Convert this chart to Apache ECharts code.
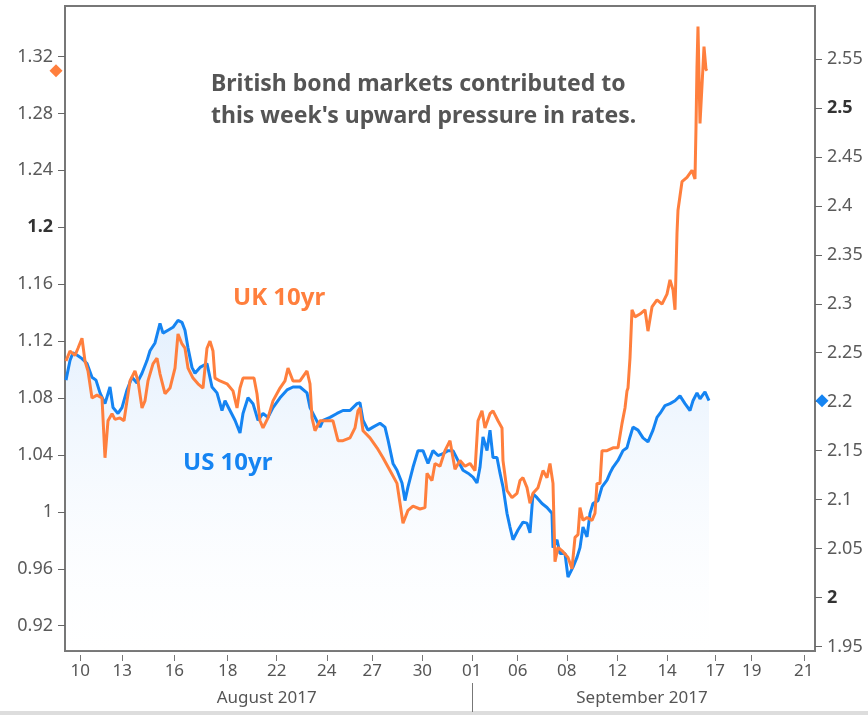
<!DOCTYPE html>
<html>
<head>
<meta charset="utf-8">
<script src="https://cdn.jsdelivr.net/npm/echarts@6/dist/echarts.min.js"></script>
<style>
  html, body { margin: 0; padding: 0; background: #ffffff; }
  #chart { width: 868px; height: 715px; }
</style>
</head>
<body>
<div id="chart"></div>
<script>
// x values are trading-day positions (weekends removed), 0 = 10 Aug 2017
const X_TICKS = [0, 1.68, 3.77, 5.91, 7.87, 9.88, 11.70, 13.71, 15.69, 17.53, 19.50, 21.52, 23.52, 25.45, 26.91, 29.0];
const X_LABELS = ['10','13','16','18','22','24','27','30','01','06','08','12','14','17','19','21'];
const MONTH_LABELS = ['August 2017', 'September 2017'];
const MONTH_CENTERS = [7.47, 22.51];
const MONTH_BOUNDARY = [15.69];
const X_MIN = -0.613, X_MAX = 29.447;

// left axis (UK): ticks 0.92 .. 1.32 step 0.04 ; right axis (US): ticks 1.95 .. 2.55 step 0.05
const LEFT_TICK_MIN = 0.92, LEFT_TICK_MAX = 1.32, LEFT_STEP = 0.04;
const RIGHT_TICK_MIN = 1.95, RIGHT_TICK_MAX = 2.55, RIGHT_STEP = 0.05;
const LEFT_RANGE = [0.9022, 1.3555];
const RIGHT_RANGE = [1.9454, 2.6041];
const LEFT_BOLD = [1.2];
const RIGHT_BOLD = [2, 2.5];

// UK 10yr gilt yield (left axis)
const UK_T = [-0.573,-0.413,-0.212,-0.092,0.068,0.188,0.309,0.469,0.669,0.870,0.990,1.110,1.271,1.391,1.591,1.752,1.872,1.992,2.192,2.313,2.473,2.593,2.713,2.914,3.074,3.194,3.395,3.595,3.796,3.916,4.076,4.196,4.317,4.517,4.717,4.918,5.078,5.198,5.319,5.399,5.599,5.880,6.120,6.281,6.401,6.521,6.802,6.962,7.082,7.202,7.323,7.523,7.723,8.004,8.204,8.325,8.525,8.806,9.086,9.206,9.287,9.407,9.607,9.888,10.128,10.329,10.529,10.810,11.010,11.130,11.210,11.331,11.611,11.892,12.132,12.413,12.693,12.814,12.934,13.134,13.335,13.615,13.815,13.896,14.096,14.216,14.417,14.617,14.818,15.018,15.218,15.419,15.619,15.820,15.940,16.100,16.220,16.421,16.541,16.741,16.902,16.942,17.102,17.303,17.503,17.623,17.743,17.904,18.024,18.144,18.345,18.545,18.705,18.825,18.946,19.026,19.146,19.347,19.547,19.707,19.828,19.948,20.028,20.148,20.309,20.509,20.629,20.709,20.830,20.910,21.110,21.351,21.551,21.711,21.832,21.912,21.952,22.032,22.112,22.232,22.433,22.633,22.753,22.914,23.114,23.315,23.515,23.635,23.756,23.836,23.916,23.956,24.116,24.317,24.517,24.637,24.677,24.717,24.757,24.838,24.958,24.998,25.078,25.118];
const UK_V = [1.106,1.113,1.110,1.115,1.122,1.106,1.099,1.080,1.082,1.080,1.038,1.064,1.069,1.065,1.066,1.064,1.078,1.092,1.099,1.092,1.073,1.078,1.092,1.104,1.108,1.097,1.083,1.087,1.101,1.125,1.118,1.115,1.101,1.094,1.090,1.087,1.115,1.120,1.113,1.094,1.092,1.090,1.085,1.073,1.087,1.094,1.094,1.094,1.083,1.064,1.059,1.066,1.078,1.087,1.092,1.101,1.092,1.092,1.099,1.090,1.066,1.057,1.064,1.064,1.064,1.050,1.050,1.052,1.059,1.071,1.073,1.057,1.052,1.045,1.038,1.029,1.020,1.006,0.992,1.001,1.004,1.002,1.003,1.027,1.022,1.034,1.032,1.043,1.050,1.030,1.036,1.032,1.034,1.029,1.064,1.071,1.059,1.069,1.071,1.064,1.059,1.036,1.015,1.010,1.013,1.022,1.024,1.017,1.006,1.013,1.017,1.029,1.024,1.034,1.020,0.965,0.975,0.972,0.968,0.960,0.982,0.984,1.003,0.994,0.996,0.994,0.999,1.020,1.020,1.043,1.043,1.045,1.045,1.062,1.073,1.085,1.087,1.108,1.142,1.137,1.139,1.142,1.127,1.144,1.149,1.146,1.153,1.163,1.156,1.142,1.196,1.212,1.232,1.235,1.240,1.234,1.270,1.313,1.341,1.273,1.313,1.327,1.311,1.310];

// US 10yr Treasury yield (right axis)
const US_T = [-0.573,-0.413,-0.293,-0.092,0.068,0.269,0.469,0.629,0.790,0.990,1.190,1.311,1.511,1.671,1.872,2.072,2.273,2.473,2.673,2.794,2.994,3.194,3.315,3.515,3.715,3.916,4.076,4.196,4.317,4.477,4.597,4.798,5.078,5.279,5.479,5.679,5.800,6.000,6.200,6.401,6.521,6.721,6.922,7.122,7.323,7.523,7.723,8.004,8.285,8.525,8.806,9.086,9.206,9.407,9.607,9.727,10.008,10.288,10.529,10.810,11.090,11.210,11.331,11.531,11.731,12.012,12.212,12.333,12.533,12.693,12.894,13.014,13.134,13.335,13.535,13.735,13.936,14.136,14.337,14.537,14.737,14.938,15.138,15.339,15.539,15.739,15.900,16.020,16.140,16.301,16.421,16.541,16.701,16.822,16.942,17.102,17.222,17.343,17.543,17.743,17.904,18.024,18.144,18.304,18.505,18.705,18.905,18.946,19.106,19.226,19.427,19.547,19.747,19.908,20.028,20.148,20.309,20.429,20.549,20.749,20.910,21.110,21.230,21.351,21.551,21.751,21.912,22.032,22.152,22.353,22.553,22.753,22.954,23.114,23.234,23.435,23.635,23.836,24.036,24.236,24.437,24.557,24.717,24.838,25.038,25.198];
const US_V = [2.222,2.242,2.250,2.247,2.244,2.239,2.225,2.222,2.209,2.198,2.215,2.194,2.188,2.194,2.212,2.225,2.219,2.229,2.242,2.252,2.260,2.280,2.270,2.273,2.276,2.283,2.281,2.273,2.255,2.235,2.229,2.235,2.239,2.215,2.209,2.191,2.201,2.191,2.181,2.168,2.188,2.204,2.198,2.181,2.188,2.184,2.194,2.204,2.212,2.215,2.215,2.209,2.194,2.184,2.174,2.181,2.184,2.188,2.191,2.191,2.198,2.199,2.181,2.171,2.174,2.178,2.174,2.161,2.137,2.130,2.117,2.099,2.113,2.133,2.150,2.150,2.137,2.150,2.145,2.147,2.150,2.150,2.140,2.130,2.127,2.123,2.117,2.133,2.164,2.150,2.171,2.143,2.143,2.127,2.113,2.086,2.072,2.059,2.069,2.077,2.076,2.066,2.106,2.102,2.096,2.092,2.086,2.051,2.059,2.045,2.045,2.021,2.031,2.041,2.051,2.072,2.062,2.086,2.096,2.099,2.113,2.120,2.127,2.133,2.140,2.150,2.153,2.164,2.174,2.171,2.163,2.159,2.171,2.184,2.188,2.196,2.198,2.201,2.206,2.198,2.191,2.201,2.209,2.203,2.210,2.201];

const ANNOTATION = ["British bond markets contributed to", "this week's upward pressure in rates."];
const UK_NAME = 'UK 10yr';
const US_NAME = 'US 10yr';

const ORANGE = '#ff7f3d';
const BLUE = '#1584f2';
const FONT = '"Noto Sans", "Open Sans", sans-serif';

function zip(a, b) { return a.map((t, i) => [t, b[i]]); }
function near(list, v) { return list.some(x => Math.abs(x - v) < 1e-6); }
function fmt(v) { return String(+v.toFixed(4)); }

const chart = echarts.init(document.getElementById('chart'), null, { renderer: 'canvas' });

const yLabelStyle = {
  color: '#5a5a5a', fontSize: 18, fontFamily: FONT,
  rich: { b: { color: '#333333', fontSize: 18, fontWeight: 'bold', fontFamily: FONT } }
};
const hiddenX = (grid) => ({ type: 'value', gridIndex: grid, min: X_MIN, max: X_MAX, show: false });

chart.setOption({
  animation: false,
  backgroundColor: '#ffffff',
  grid: [
    { left: 65, right: 53, top: 6, bottom: 64, show: true, borderColor: '#777777', borderWidth: 2, backgroundColor: 'transparent' },
    { left: 65, right: 53, top: 56.5, bottom: 89.3 },   // left tick band
    { left: 65, right: 53, top: 59, bottom: 68.5 }      // right tick band
  ],
  xAxis: [{
    type: 'value', gridIndex: 0, min: X_MIN, max: X_MAX, offset: 4,
    axisLine: { show: false, onZero: false },
    splitLine: { show: false },
    axisTick: { show: true, customValues: X_TICKS, length: 6, lineStyle: { color: '#777777' } },
    axisLabel: {
      customValues: X_TICKS, margin: 8, color: '#555555', fontSize: 17, fontFamily: FONT,
      formatter: v => { const i = X_TICKS.findIndex(x => Math.abs(x - v) < 1e-6); return i >= 0 ? X_LABELS[i] : ''; }
    }
  }, {
    type: 'value', gridIndex: 0, min: X_MIN, max: X_MAX, offset: 32, position: 'bottom',
    axisLine: { show: false, onZero: false },
    splitLine: { show: false },
    axisTick: { show: true, customValues: MONTH_BOUNDARY, length: 29, lineStyle: { color: '#777777' } },
    axisLabel: {
      customValues: MONTH_CENTERS, margin: 7, color: '#555555', fontSize: 17, fontFamily: FONT,
      formatter: v => { const i = MONTH_CENTERS.findIndex(x => Math.abs(x - v) < 1e-6); return i >= 0 ? MONTH_LABELS[i] : ''; }
    }
  }, hiddenX(1), hiddenX(2)],
  yAxis: [{
    type: 'value', gridIndex: 0, position: 'left', min: LEFT_RANGE[0], max: LEFT_RANGE[1], show: false
  }, {
    type: 'value', gridIndex: 0, position: 'right', min: RIGHT_RANGE[0], max: RIGHT_RANGE[1], show: false
  }, {
    type: 'value', gridIndex: 1, position: 'left', min: LEFT_TICK_MIN, max: LEFT_TICK_MAX, interval: LEFT_STEP,
    axisLine: { show: false, onZero: false }, splitLine: { show: false },
    axisTick: { show: true, length: 7, lineStyle: { color: '#666666' } },
    axisLabel: Object.assign({ margin: 12, showMinLabel: true, showMaxLabel: true,
      formatter: v => near(LEFT_BOLD, v) ? '{b|' + fmt(v) + '}' : fmt(v) }, yLabelStyle)
  }, {
    type: 'value', gridIndex: 2, position: 'right', min: RIGHT_TICK_MIN, max: RIGHT_TICK_MAX, interval: RIGHT_STEP,
    axisLine: { show: false, onZero: false }, splitLine: { show: false },
    axisTick: { show: true, length: 7, lineStyle: { color: '#666666' } },
    axisLabel: Object.assign({ margin: 12, showMinLabel: true, showMaxLabel: true,
      formatter: v => near(RIGHT_BOLD, v) ? '{b|' + fmt(v) + '}' : fmt(v) }, yLabelStyle)
  }],
  series: [{
    name: US_NAME, type: 'line', xAxisIndex: 0, yAxisIndex: 1,
    data: zip(US_T, US_V), showSymbol: false, symbol: 'none',
    lineStyle: { color: BLUE, width: 3 },
    areaStyle: {
      color: new echarts.graphic.LinearGradient(0, 0, 0, 1, [
        { offset: 0, color: 'rgba(40,135,240,0.18)' },
        { offset: 1, color: 'rgba(255,255,255,0.05)' }
      ])
    },
    markPoint: {
      symbol: 'diamond', symbolSize: 13, symbolOffset: [7, 0],
      itemStyle: { color: BLUE }, label: { show: false },
      data: [{ coord: [X_MAX, US_V[US_V.length - 1]] }]
    },
    z: 2
  }, {
    name: UK_NAME, type: 'line', xAxisIndex: 0, yAxisIndex: 0,
    data: zip(UK_T, UK_V), showSymbol: false, symbol: 'none',
    lineStyle: { color: ORANGE, width: 3 },
    markPoint: {
      symbol: 'diamond', symbolSize: 13, symbolOffset: [-9, 0],
      itemStyle: { color: ORANGE }, label: { show: false },
      data: [{ coord: [X_MIN, UK_V[UK_V.length - 1]] }]
    },
    z: 3
  }],
  graphic: [
    { type: 'text', left: 211, top: 68, z: 10,
      style: { text: ANNOTATION.join('\n'), fill: '#555555', font: 'bold 23px ' + FONT, lineHeight: 32 } },
    { type: 'text', left: 233, top: 286, z: 10,
      style: { text: UK_NAME, fill: ORANGE, font: 'bold 24px ' + FONT } },
    { type: 'text', left: 183, top: 451, z: 10,
      style: { text: US_NAME, fill: BLUE, font: 'bold 24px ' + FONT } },
    { type: 'rect', left: 0, top: 711, z: 0, shape: { width: 868, height: 4 }, style: { fill: '#dddddd' } }
  ]
});
</script>
</body>
</html>
